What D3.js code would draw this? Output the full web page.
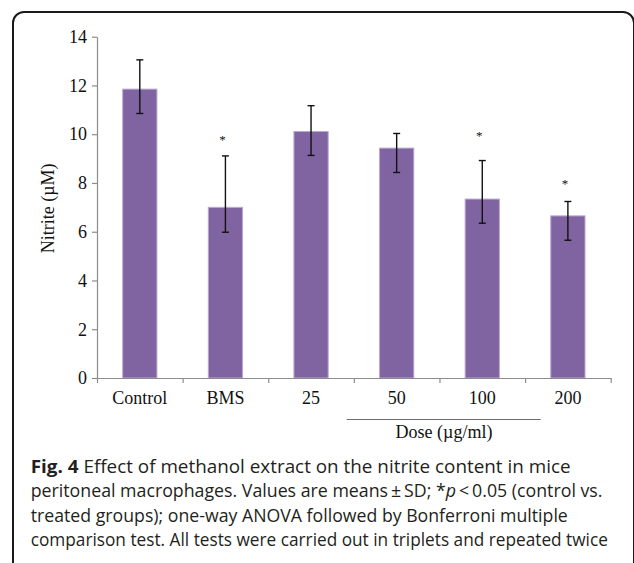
<!DOCTYPE html>
<html>
<head>
<meta charset="utf-8">
<script src="https://cdn.jsdelivr.net/npm/d3@7"></script>
<style>
  html, body { margin: 0; padding: 0; background: #fff; }
  svg { display: block; }
</style>
</head>
<body>
<script>
// Nitrite content (µM) in peritoneal macrophages, by treatment group
const categories = ["Control", "BMS", "25", "50", "100", "200"];
const means      = [11.85, 7.00, 10.11, 9.43, 7.34, 6.65];
const errUpper   = [13.05, 9.11, 11.17, 10.03, 8.92, 7.24];
const errLower   = [10.85, 5.98, 9.13, 8.43, 6.35, 5.65];
// significance markers (* p < 0.05 vs control) and the value they sit at
const starGroups = ["BMS", "100", "200"];
const starLevels = [9.86, 10.0, 8.03];
const yTicks     = [0, 2, 4, 6, 8, 10, 12, 14];

const yTitle = "Nitrite (\u00b5M)";
const xTitle = "Dose (\u00b5g/ml)";
const captionLines = [
  [{t: "Fig. 4", w: "bold"}, {t: " Effect of methanol extract on the nitrite content in mice"}],
  [{t: "peritoneal macrophages. Values are means\u2009\u00b1\u2009SD; *"}, {t: "p", s: "italic"}, {t: "\u2009<\u20090.05 (control vs."}],
  [{t: "treated groups); one-way ANOVA followed by Bonferroni multiple"}],
  [{t: "comparison test. All tests were carried out in triplets and repeated twice"}]
];
const captionWidths = [540, 572, 537.6, 577.6];

const W = 634, H = 563;
const serif = "'Liberation Serif', 'Times New Roman', serif";
const sans = "'Open Sans', 'Noto Sans', sans-serif";
const axisGray = "#8c8c8c";

const svg = d3.select("body").append("svg")
  .attr("width", W).attr("height", H);

// figure frame
svg.append("rect")
  .attr("x", 13).attr("y", 12)
  .attr("width", 621).attr("height", 600)
  .attr("rx", 11).attr("ry", 11)
  .attr("fill", "none").attr("stroke", "#1a1a1a").attr("stroke-width", 2);

const plot = { left: 97, right: 610.7, top: 36.7, bottom: 378 };

const x = d3.scaleBand()
  .domain(categories)
  .range([plot.left, plot.right])
  .paddingInner(0.6).paddingOuter(0.3);

const xEdges = d3.scaleLinear()
  .domain([0, categories.length])
  .range([plot.left, plot.right]);

const y = d3.scaleLinear()
  .domain([0, 14])
  .range([plot.bottom, plot.top]);

// bars
svg.append("g").selectAll("rect")
  .data(categories)
  .join("rect")
  .attr("x", d => x(d))
  .attr("width", x.bandwidth())
  .attr("y", (d, i) => y(means[i]))
  .attr("height", (d, i) => y(0) - y(means[i]))
  .attr("fill", "#8064a2")
  .attr("stroke", "#b9a9d0")
  .attr("stroke-width", 1);

// y axis
const yAxis = svg.append("g")
  .attr("transform", `translate(${plot.left},0)`)
  .call(d3.axisLeft(y).tickValues(yTicks).tickSize(5).tickPadding(5).tickSizeOuter(0));
yAxis.select(".domain").attr("stroke", axisGray).attr("stroke-width", 1.2);
yAxis.selectAll(".tick line").attr("stroke", axisGray).attr("stroke-width", 1.2);
yAxis.selectAll(".tick text")
  .attr("font-family", serif).attr("font-size", 18).attr("fill", "#111");

// x axis: boundary ticks
const xAxisEdges = svg.append("g")
  .attr("transform", `translate(0,${plot.bottom})`)
  .call(d3.axisBottom(xEdges).ticks(categories.length).tickSize(5)
    .tickFormat(() => "").tickSizeOuter(0));
xAxisEdges.select(".domain").attr("stroke", axisGray).attr("stroke-width", 1.2);
xAxisEdges.selectAll(".tick line").attr("stroke", axisGray).attr("stroke-width", 1.2);

// x axis: category labels
const xAxisLabels = svg.append("g")
  .attr("transform", `translate(0,${plot.bottom})`)
  .call(d3.axisBottom(x).tickSize(0).tickPadding(13));
xAxisLabels.select(".domain").remove();
xAxisLabels.selectAll(".tick text")
  .attr("font-family", serif).attr("font-size", 18).attr("fill", "#111");

// error bars
const cap = 3.5;
const eb = svg.append("g").attr("stroke", "#111").attr("stroke-width", 1.4);
categories.forEach((c, i) => {
  const cx = x(c) + x.bandwidth() / 2;
  eb.append("line").attr("x1", cx).attr("x2", cx)
    .attr("y1", y(errUpper[i])).attr("y2", y(errLower[i]));
  eb.append("line").attr("x1", cx - cap).attr("x2", cx + cap)
    .attr("y1", y(errUpper[i])).attr("y2", y(errUpper[i]));
  eb.append("line").attr("x1", cx - cap).attr("x2", cx + cap)
    .attr("y1", y(errLower[i])).attr("y2", y(errLower[i]));
});

// significance stars
svg.append("g").selectAll("text")
  .data(starGroups)
  .join("text")
  .attr("x", d => x(d) + x.bandwidth() / 2 - 3)
  .attr("y", (d, i) => y(starLevels[i]) + 6)
  .attr("text-anchor", "middle")
  .attr("font-family", serif).attr("font-size", 13).attr("fill", "#111")
  .text("*");

// y axis title
svg.append("text")
  .attr("transform", `translate(54,${(plot.top + plot.bottom) / 2 + 1}) rotate(-90)`)
  .attr("text-anchor", "middle")
  .attr("font-family", serif).attr("font-size", 18).attr("fill", "#111")
  .text(yTitle);

// dose bracket and title
svg.append("line")
  .attr("x1", 346.7).attr("x2", 540.7)
  .attr("y1", 419.5).attr("y2", 419.5)
  .attr("stroke", "#6e6e6e").attr("stroke-width", 1);
svg.append("text")
  .attr("x", 444).attr("y", 438)
  .attr("text-anchor", "middle")
  .attr("font-family", serif).attr("font-size", 18).attr("fill", "#111")
  .text(xTitle);

// caption
const capX = 30.7, capBase = 472.7, capStep = 24.5;
captionLines.forEach((parts, li) => {
  const t = svg.append("text")
    .attr("font-family", sans).attr("font-size", 17.5).attr("fill", "#231f20");
  parts.forEach(p => {
    t.append("tspan")
      .attr("font-weight", p.w || "normal")
      .attr("font-style", p.s || "normal")
      .text(p.t);
  });
  const natural = t.node().getComputedTextLength();
  const sx = captionWidths[li] / natural;
  t.attr("transform", `translate(${capX},${capBase + li * capStep}) scale(${sx},1)`);
});
</script>
</body>
</html>
